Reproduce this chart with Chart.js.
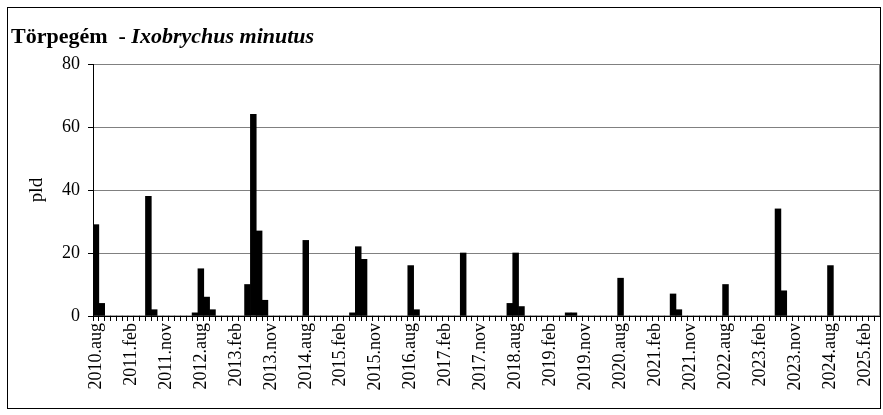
<!DOCTYPE html>
<html>
<head>
<meta charset="utf-8">
<script src="https://cdn.jsdelivr.net/npm/chart.js@4.4.1/dist/chart.umd.min.js"></script>
<style>
  html, body { margin: 0; padding: 0; background: #fff; }
  #wrap { width: 883px; height: 415px; position: relative; }
</style>
</head>
<body>
<div id="wrap"><canvas id="chart" width="883" height="415"></canvas></div>
<script>
// tick labels, one every 6 counts
const tickLabels = ['2010.aug', '2011.feb', '2011.nov', '2012.aug', '2013.feb', '2013.nov',
    '2014.aug', '2015.feb', '2015.nov', '2016.aug', '2017.feb', '2017.nov',
    '2018.aug', '2019.feb', '2019.nov', '2020.aug', '2021.feb', '2021.nov',
    '2022.aug', '2023.feb', '2023.nov', '2024.aug', '2025.feb'];

// pld per count (one row = one label interval)
const counts = [
    29, 4, 0, 0, 0, 0,
    0, 0, 0, 38, 2, 0,
    0, 0, 0, 0, 0, 1,
    15, 6, 2, 0, 0, 0,
    0, 0, 10, 64, 27, 5,
    0, 0, 0, 0, 0, 0,
    24, 0, 0, 0, 0, 0,
    0, 0, 1, 22, 18, 0,
    0, 0, 0, 0, 0, 0,
    16, 2, 0, 0, 0, 0,
    0, 0, 0, 20, 0, 0,
    0, 0, 0, 0, 0, 4,
    20, 3, 0, 0, 0, 0,
    0, 0, 0, 1, 1, 0,
    0, 0, 0, 0, 0, 0,
    12, 0, 0, 0, 0, 0,
    0, 0, 0, 7, 2, 0,
    0, 0, 0, 0, 0, 0,
    10, 0, 0, 0, 0, 0,
    0, 0, 0, 34, 8, 0,
    0, 0, 0, 0, 0, 0,
    16, 0, 0, 0, 0, 0,
    0, 0, 0
];

const yTicks = [0, 20, 40, 60, 80];

// category names: label on every 6th count, rest blank
const categories = counts.map((v, i) => (i % 6 === 0 ? tickLabels[i / 6] : ''));

const serif = '"Liberation Serif", "Times New Roman", serif';

const frame = {
    id: 'frame',
    beforeDraw(chart) {
        const c = chart.ctx;
        c.save();
        c.fillStyle = '#fff';
        c.fillRect(0, 0, chart.width, chart.height);
        c.restore();
    },
    afterDraw(chart) {
        const c = chart.ctx;
        const a = chart.chartArea;
        c.save();
        // plot area right border
        c.strokeStyle = '#808080';
        c.lineWidth = 1;
        c.beginPath();
        c.moveTo(Math.round(a.right) - 0.5, a.top);
        c.lineTo(Math.round(a.right) - 0.5, a.bottom);
        c.stroke();
        // outer frame
        c.strokeStyle = '#000';
        c.strokeRect(7.5, 7.5, 873, 401);
        // title
        c.fillStyle = '#000';
        c.textBaseline = 'alphabetic';
        c.font = 'bold 22px ' + serif;
        const t1 = 'Törpegém  - ';
        c.fillText(t1, 11, 43);
        const w1 = c.measureText(t1).width;
        c.font = 'italic bold 22px ' + serif;
        c.fillText('Ixobrychus minutus', 11 + w1, 43);
        // y title
        c.font = '19px ' + serif;
        c.translate(37, 190);
        c.rotate(-Math.PI / 2);
        c.textAlign = 'center';
        c.textBaseline = 'middle';
        c.fillText('pld', 0, 0);
        c.restore();
    }
};

new Chart(document.getElementById('chart'), {
    type: 'bar',
    data: {
        labels: categories,
        datasets: [{
            label: 'Törpegém',
            data: counts,
            backgroundColor: '#000',
            borderWidth: 0,
            barPercentage: 1,
            categoryPercentage: 1
        }]
    },
    options: {
        responsive: false,
        animation: false,
        maintainAspectRatio: false,
        layout: { padding: { top: 64, right: 3, left: 0, bottom: 0 } },
        plugins: {
            legend: { display: false },
            tooltip: { enabled: false },
            title: { display: false }
        },
        scales: {
            x: {
                afterFit: (s) => { s.height = 99; s.paddingLeft = 0; s.paddingRight = 0; },
                grid: { display: true, drawOnChartArea: false, tickLength: 5, tickColor: '#000', offset: true },
                border: { color: '#000', width: 1 },
                ticks: {
                    autoSkip: false,
                    maxRotation: 90,
                    minRotation: 90,
                    padding: 2,
                    color: '#000',
                    font: { family: serif, size: 18 }
                }
            },
            y: {
                min: 0,
                max: 80,
                afterFit: (s) => { s.width = 93; s.paddingTop = 0; s.paddingBottom = 0; },
                afterBuildTicks: (s) => { s.ticks = yTicks.map(v => ({ value: v })); },
                grid: { color: '#808080', tickLength: 5, tickColor: '#000' },
                border: { color: '#000', width: 1 },
                ticks: {
                    stepSize: 20,
                    padding: 8,
                    color: '#000',
                    font: { family: serif, size: 18 }
                }
            }
        }
    },
    plugins: [frame]
});
</script>
</body>
</html>
